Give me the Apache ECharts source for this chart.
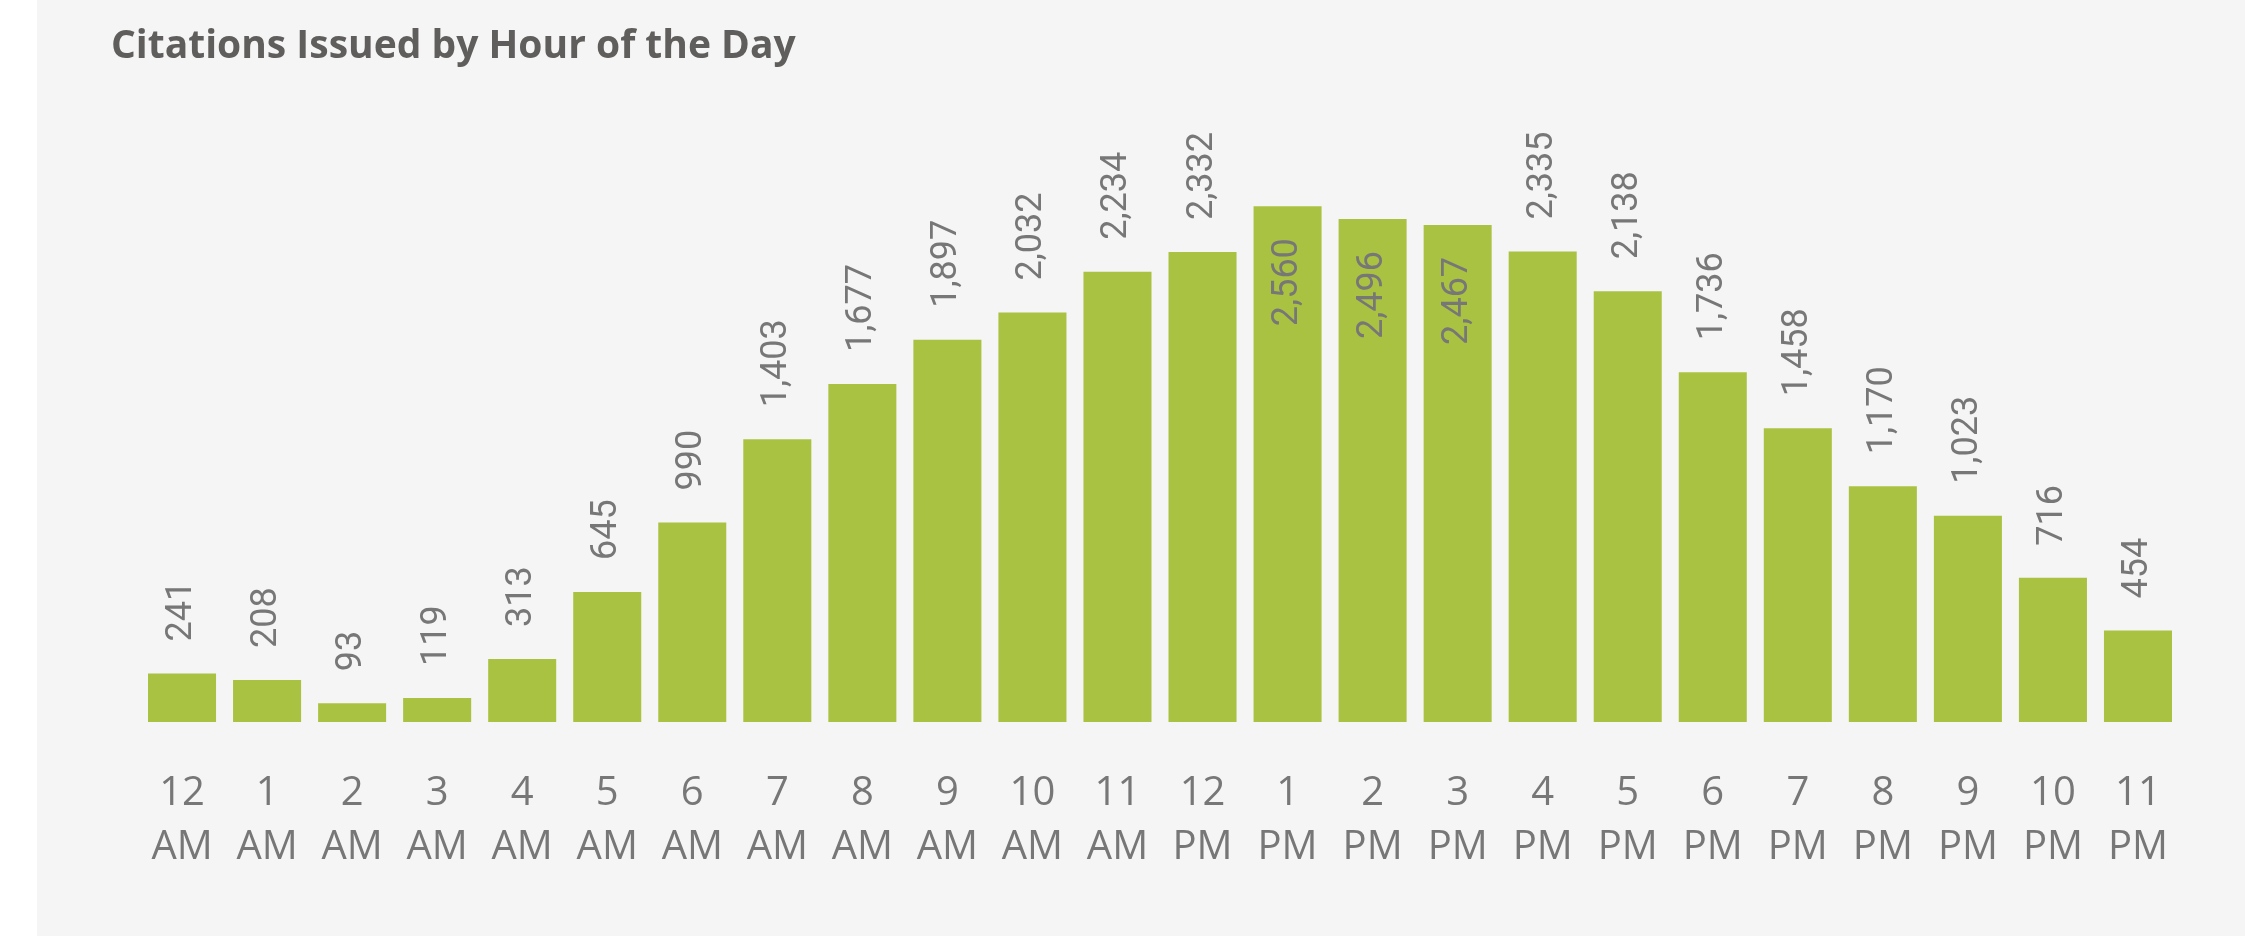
<!DOCTYPE html>
<html>
<head>
<meta charset="utf-8">
<style>
  html, body { margin: 0; padding: 0; background: #ffffff; }
  #chart { width: 2245px; height: 936px; }
</style>
<script src="https://cdn.jsdelivr.net/npm/echarts@6/dist/echarts.min.js"></script>
</head>
<body>
<div id="chart"></div>
<script>
// Hour-of-day buckets (two-line labels: hour / meridiem)
const hours = ['12', '1', '2', '3', '4', '5', '6', '7', '8', '9', '10', '11',
               '12', '1', '2', '3', '4', '5', '6', '7', '8', '9', '10', '11'];
const meridiem = ['AM', 'AM', 'AM', 'AM', 'AM', 'AM', 'AM', 'AM', 'AM', 'AM', 'AM', 'AM',
                  'PM', 'PM', 'PM', 'PM', 'PM', 'PM', 'PM', 'PM', 'PM', 'PM', 'PM', 'PM'];

// Citations issued in each hour
const citations = [241, 208, 93, 119, 313, 645, 990, 1403, 1677, 1897, 2032, 2234,
                   2332, 2560, 2496, 2467, 2335, 2138, 1736, 1458, 1170, 1023, 716, 454];

const categories = hours.map((h, i) => h + '\n' + meridiem[i]);

// Bars too tall to fit their label above get the label inside the bar instead
const insideThreshold = 2400;

const labelColor = '#777777';
const outsideLabel = {
  position: 'top', rotate: 90, align: 'left', verticalAlign: 'middle', distance: 32
};
const insideLabel = {
  position: 'insideTop', rotate: 90, align: 'right', verticalAlign: 'middle', distance: 32
};

const seriesData = citations.map(v => ({
  value: v,
  label: v > insideThreshold ? insideLabel : outsideLabel
}));

const chart = echarts.init(document.getElementById('chart'), null, { renderer: 'canvas' });

chart.setOption({
  backgroundColor: '#ffffff',
  animation: false,
  graphic: [{
    type: 'rect', left: 37, top: 0, z: -10,
    shape: { width: 2208, height: 936 },
    style: { fill: '#f5f5f5' }
  }],
  title: {
    text: 'Citations Issued by Hour of the Day',
    left: 106, top: 22,
    textStyle: {
      fontFamily: 'Open Sans', fontWeight: 700, fontSize: 39, color: '#605e5c'
    }
  },
  grid: { left: 139.5, right: 64.5, top: 117.5, bottom: 214, containLabel: false },
  xAxis: {
    type: 'category',
    data: categories,
    axisLine: { show: false },
    axisTick: { show: false },
    axisLabel: {
      interval: 0, margin: 45,
      fontFamily: 'Open Sans', fontSize: 40, lineHeight: 54, color: labelColor
    }
  },
  yAxis: {
    type: 'value', min: 0, max: 3000, show: false,
    splitLine: { show: false }
  },
  series: [{
    type: 'bar',
    data: seriesData,
    barCategoryGap: '20%',
    itemStyle: { color: '#aac241' },
    label: {
      show: true,
      fontFamily: 'Roboto', fontSize: 36, color: labelColor,
      formatter: p => p.value.toLocaleString('en-US')
    }
  }]
});
</script>
</body>
</html>
